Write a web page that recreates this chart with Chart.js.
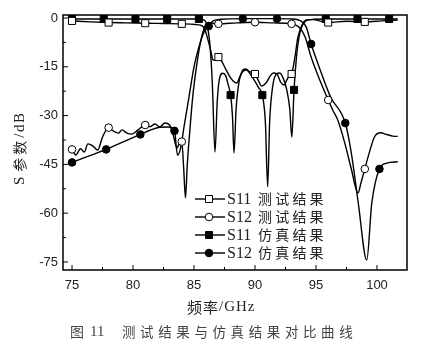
<!DOCTYPE html>
<html>
<head>
<meta charset="utf-8">
<script src="https://cdn.jsdelivr.net/npm/chart.js@4.4.0/dist/chart.umd.min.js"></script>
<style>
  body { margin: 0; background: #fff; }
</style>
</head>
<body>
<canvas id="chart" width="423" height="351"></canvas>
<script>
// S11 measured (open squares)
const s11TestFreq = [75, 76.5, 78, 79.4, 81, 82.5, 84, 85.1, 85.7, 85.9, 86.15, 86.4, 86.55, 86.75, 87, 87.3, 87.6, 87.95, 88.3, 88.5, 88.75, 89, 89.25, 89.6, 90, 90.25, 90.55, 90.9, 91.25, 91.5, 91.8, 92.1, 92.4, 92.6, 92.8, 93, 93.3, 93.5, 93.85, 94.2, 94.7, 96, 97.5, 99, 100.4, 101.7];
const s11TestDb = [-0.9, -1.2, -1.4, -1.5, -1.6, -1.7, -1.8, -2.0, -2.5, -3.7, -6.8, -10.5, -12.9, -12.9, -12.0, -13.5, -15.7, -18.1, -19.7, -20.0, -18.1, -16.0, -15.7, -16.6, -17.2, -19.0, -20.9, -20.0, -17.8, -16.9, -17.2, -19.7, -20.6, -19.1, -17.8, -17.2, -11.4, -6.2, -2.2, -0.6, -0.5, -1.4, -1.0, -1.2, -0.9, -0.6];
const s11TestMarks = [75, 78, 81, 84, 87, 90, 93, 96, 99];

// S12 measured (open circles)
const s12TestFreq = [75, 75.3, 75.7, 76, 76.3, 76.7, 77.1, 77.5, 78, 78.4, 78.8, 79.1, 79.5, 79.9, 80.4, 81, 81.4, 81.8, 82.2, 82.6, 83, 83.3, 83.6, 83.8, 84, 84.15, 84.3, 84.45, 84.65, 84.9, 85.2, 85.5, 85.8, 86.15, 86.5, 87, 88.5, 90, 91.5, 93, 93.6, 94.1, 94.6, 95.3, 96, 96.4, 96.8, 97.4, 97.9, 98.44, 98.7, 99, 99.4, 99.8, 100.3, 100.8, 101.3, 101.7];
const s12TestDb = [-40.4, -42.1, -40.2, -41.2, -38.7, -39.3, -40.6, -36.6, -33.7, -34.8, -35.4, -34.4, -35.4, -35.7, -34.4, -32.9, -33.4, -32.6, -33.5, -32.3, -32.9, -36, -40, -38.5, -38, -46, -55.3, -45, -35, -24, -15, -8, -3.5, -1.5, -1.6, -1.8, -1.5, -1.3, -1.5, -1.8, -2.8, -5.8, -12, -19, -25.2, -28.5, -31.5, -39, -46.5, -53.8, -50.5, -46.4, -41, -36.5, -35.3, -35.8, -36.3, -36.4];
const s12TestMarks = [75, 78, 81, 84, 87, 90, 93, 96, 99];

// S11 simulated (filled squares)
const s11SimFreq = [75, 77.6, 80.2, 82.8, 85.4, 85.8, 86.05, 86.3, 86.5, 86.72, 86.9, 87.05, 87.35, 87.6, 87.8, 88, 88.15, 88.28, 88.45, 88.7, 89, 89.3, 89.6, 90, 90.3, 90.6, 90.85, 91.04, 91.2, 91.45, 91.7, 92, 92.3, 92.6, 92.85, 93.02, 93.2, 93.4, 93.6, 93.85, 94.2, 94.8, 95.8, 98.4, 101, 101.7];
const s11SimDb = [-0.3, -0.3, -0.3, -0.3, -0.3, -0.6, -2, -8, -20, -41.2, -26, -19.5, -17, -17.8, -20.5, -23.7, -30, -41.5, -28, -19.5, -16.5, -16, -17.2, -19.5, -21.5, -23.7, -32, -51.9, -32, -21, -17.5, -16.9, -18.4, -22, -28, -36.6, -22.1, -12, -6, -2.5, -0.8, -0.4, -0.3, -0.3, -0.3, -0.3];
const s11SimMarks = [75, 77.6, 80.2, 82.8, 85.4, 88, 90.6, 93.2, 95.8, 98.4, 101];

// S12 simulated (filled circles)
const s12SimFreq = [75, 76.4, 77.8, 79.2, 80.6, 81.4, 82.2, 82.9, 83.4, 83.65, 83.9, 84.2, 84.6, 85, 85.4, 85.8, 86.2, 86.6, 87.2, 89, 91.8, 93, 93.7, 94.2, 94.6, 95.3, 96.2, 97.4, 97.9, 98.47, 99.16, 99.57, 100.2, 100.8, 101.7];
const s12SimDb = [-44.4, -42.4, -40.4, -38.1, -35.8, -34.5, -33.6, -33.5, -34.7, -42.2, -40, -33, -24, -15, -9, -4.5, -2.5, -0.8, -0.4, -0.2, -0.2, -0.3, -0.8, -2.8, -8, -15.5, -24.3, -32.3, -41.6, -57, -74.4, -57, -46.4, -44.6, -44.2];
const s12SimMarks = [75, 77.8, 80.6, 83.4, 86.2, 89, 91.8, 94.6, 97.4, 100.2];

const xTicks = [75, 80, 85, 90, 95, 100];
const xMinorTicks = [77.5, 82.5, 87.5, 92.5, 97.5];
const yTicks = [-75, -60, -45, -30, -15, 0];
const yMinorTicks = [-67.5, -52.5, -37.5, -22.5, -7.5];

const seriesLabels = ['S11 测试结果', 'S12 测试结果', 'S11 仿真结果', 'S12 仿真结果'];

function makeSeries(label, freq, db, marks, style, filled) {
  return {
    label: label,
    data: freq.map((f, i) => ({ x: f, y: db[i] })),
    borderColor: '#000',
    borderWidth: 1.4,
    cubicInterpolationMode: 'monotone',
    pointStyle: style,
    pointRadius: (c) => marks.includes(c.raw.x) ? (style === 'rect' ? 5 : 3.8) : 0,
    pointBackgroundColor: filled ? '#000' : '#fff',
    pointBorderColor: '#000',
    pointBorderWidth: 1,
    fill: false
  };
}

const datasets = [
  makeSeries(seriesLabels[0], s11TestFreq, s11TestDb, s11TestMarks, 'rect', false),
  makeSeries(seriesLabels[1], s12TestFreq, s12TestDb, s12TestMarks, 'circle', false),
  makeSeries(seriesLabels[2], s11SimFreq, s11SimDb, s11SimMarks, 'rect', true),
  makeSeries(seriesLabels[3], s12SimFreq, s12SimDb, s12SimMarks, 'circle', true)
];

const cjk = "'Noto Sans CJK SC'";
const serif = "'Liberation Serif', 'DejaVu Serif'";

function drawSpaced(ctx, text, x, y, gap) {
  let cx = x;
  for (const ch of text) {
    ctx.fillText(ch, cx, y);
    cx += ctx.measureText(ch).width + gap;
  }
  return cx;
}

// frame, inward ticks, axis titles, caption
const decorPlugin = {
  id: 'decor',
  afterDraw(chart) {
    const { ctx, chartArea: a, scales: { x, y } } = chart;
    ctx.save();
    ctx.strokeStyle = '#000';
    ctx.lineWidth = 1.5;
    ctx.strokeRect(a.left, a.top, a.right - a.left, a.bottom - a.top);

    ctx.lineWidth = 1;
    ctx.beginPath();
    xTicks.forEach(v => { const p = x.getPixelForValue(v); ctx.moveTo(p, a.bottom); ctx.lineTo(p, a.bottom - 5); });
    xMinorTicks.forEach(v => { const p = x.getPixelForValue(v); ctx.moveTo(p, a.bottom); ctx.lineTo(p, a.bottom - 3); });
    yTicks.forEach(v => { const p = y.getPixelForValue(v); ctx.moveTo(a.left, p); ctx.lineTo(a.left + 5, p); });
    yMinorTicks.forEach(v => { const p = y.getPixelForValue(v); ctx.moveTo(a.left, p); ctx.lineTo(a.left + 3, p); });
    ctx.stroke();

    ctx.fillStyle = '#222';
    ctx.textBaseline = 'middle';
    ctx.textAlign = 'left';

    // x axis title
    ctx.font = '15px ' + cjk;
    let cx = drawSpaced(ctx, '频率', 187, 307, 1);
    ctx.font = '15px ' + serif;
    drawSpaced(ctx, '/GHz', cx, 307, 1);

    // y axis title
    ctx.save();
    ctx.translate(20, 185);
    ctx.rotate(-Math.PI / 2);
    ctx.font = '15px ' + serif;
    cx = drawSpaced(ctx, 'S', 0, 0, 0) + 5;
    ctx.font = '14px ' + cjk;
    cx = drawSpaced(ctx, '参数', cx, 0, 3);
    ctx.font = '15px ' + serif;
    drawSpaced(ctx, '/dB', cx, 0, 1.5);
    ctx.restore();

    // caption
    ctx.fillStyle = '#444';
    ctx.font = '14px ' + cjk;
    ctx.fillText('图', 70, 332);
    ctx.font = '15px ' + serif;
    ctx.fillText('11', 90, 332);
    ctx.font = '13.5px ' + cjk;
    drawSpaced(ctx, '测试结果与仿真结果对比曲线', 122, 332, 4.6);
    ctx.restore();
  }
};

// legend: line with centred marker, then label
const legendPlugin = {
  id: 'lineLegend',
  afterDraw(chart) {
    const ctx = chart.ctx;
    ctx.save();
    chart.data.datasets.forEach((ds, i) => {
      const ry = 199 + i * 18;
      ctx.strokeStyle = '#000';
      ctx.lineWidth = 1.4;
      ctx.beginPath();
      ctx.moveTo(195, ry);
      ctx.lineTo(225, ry);
      ctx.stroke();
      ctx.fillStyle = ds.pointBackgroundColor;
      ctx.lineWidth = 1;
      ctx.beginPath();
      if (ds.pointStyle === 'rect') ctx.rect(205.5, ry - 3.5, 7, 7);
      else ctx.arc(209, ry, 3.8, 0, Math.PI * 2);
      ctx.fill();
      ctx.stroke();

      const [name, desc] = ds.label.split(' ');
      ctx.fillStyle = '#222';
      ctx.textBaseline = 'middle';
      ctx.font = '16px ' + serif;
      ctx.fillText(name, 227, ry + 1);
      ctx.font = '14px ' + cjk;
      drawSpaced(ctx, desc, 258, ry, 3.2);
    });
    ctx.restore();
  }
};

new Chart(document.getElementById('chart'), {
  type: 'line',
  data: { datasets: datasets },
  options: {
    responsive: false,
    animation: false,
    layout: { padding: { top: 15, right: 16, left: 0, bottom: 0 } },
    plugins: {
      legend: { display: false },
      tooltip: { enabled: false }
    },
    scales: {
      x: {
        type: 'linear',
        min: 74.26,
        max: 102.46,
        afterFit: (s) => { s.height = 81; },
        afterBuildTicks: (s) => { s.ticks = xTicks.map(v => ({ value: v })); },
        grid: { display: false, drawTicks: false },
        border: { display: false },
        ticks: { color: '#222', padding: 8, maxRotation: 0, font: { family: "'Liberation Sans', Arial", size: 13 } }
      },
      y: {
        type: 'linear',
        min: -77.47,
        max: 0.92,
        afterFit: (s) => { s.width = 63; },
        afterBuildTicks: (s) => { s.ticks = yTicks.map(v => ({ value: v })); },
        grid: { display: false, drawTicks: false },
        border: { display: false },
        ticks: { color: '#222', padding: 5, font: { family: "'Liberation Sans', Arial", size: 13 } }
      }
    }
  },
  plugins: [decorPlugin, legendPlugin]
});
</script>
</body>
</html>
